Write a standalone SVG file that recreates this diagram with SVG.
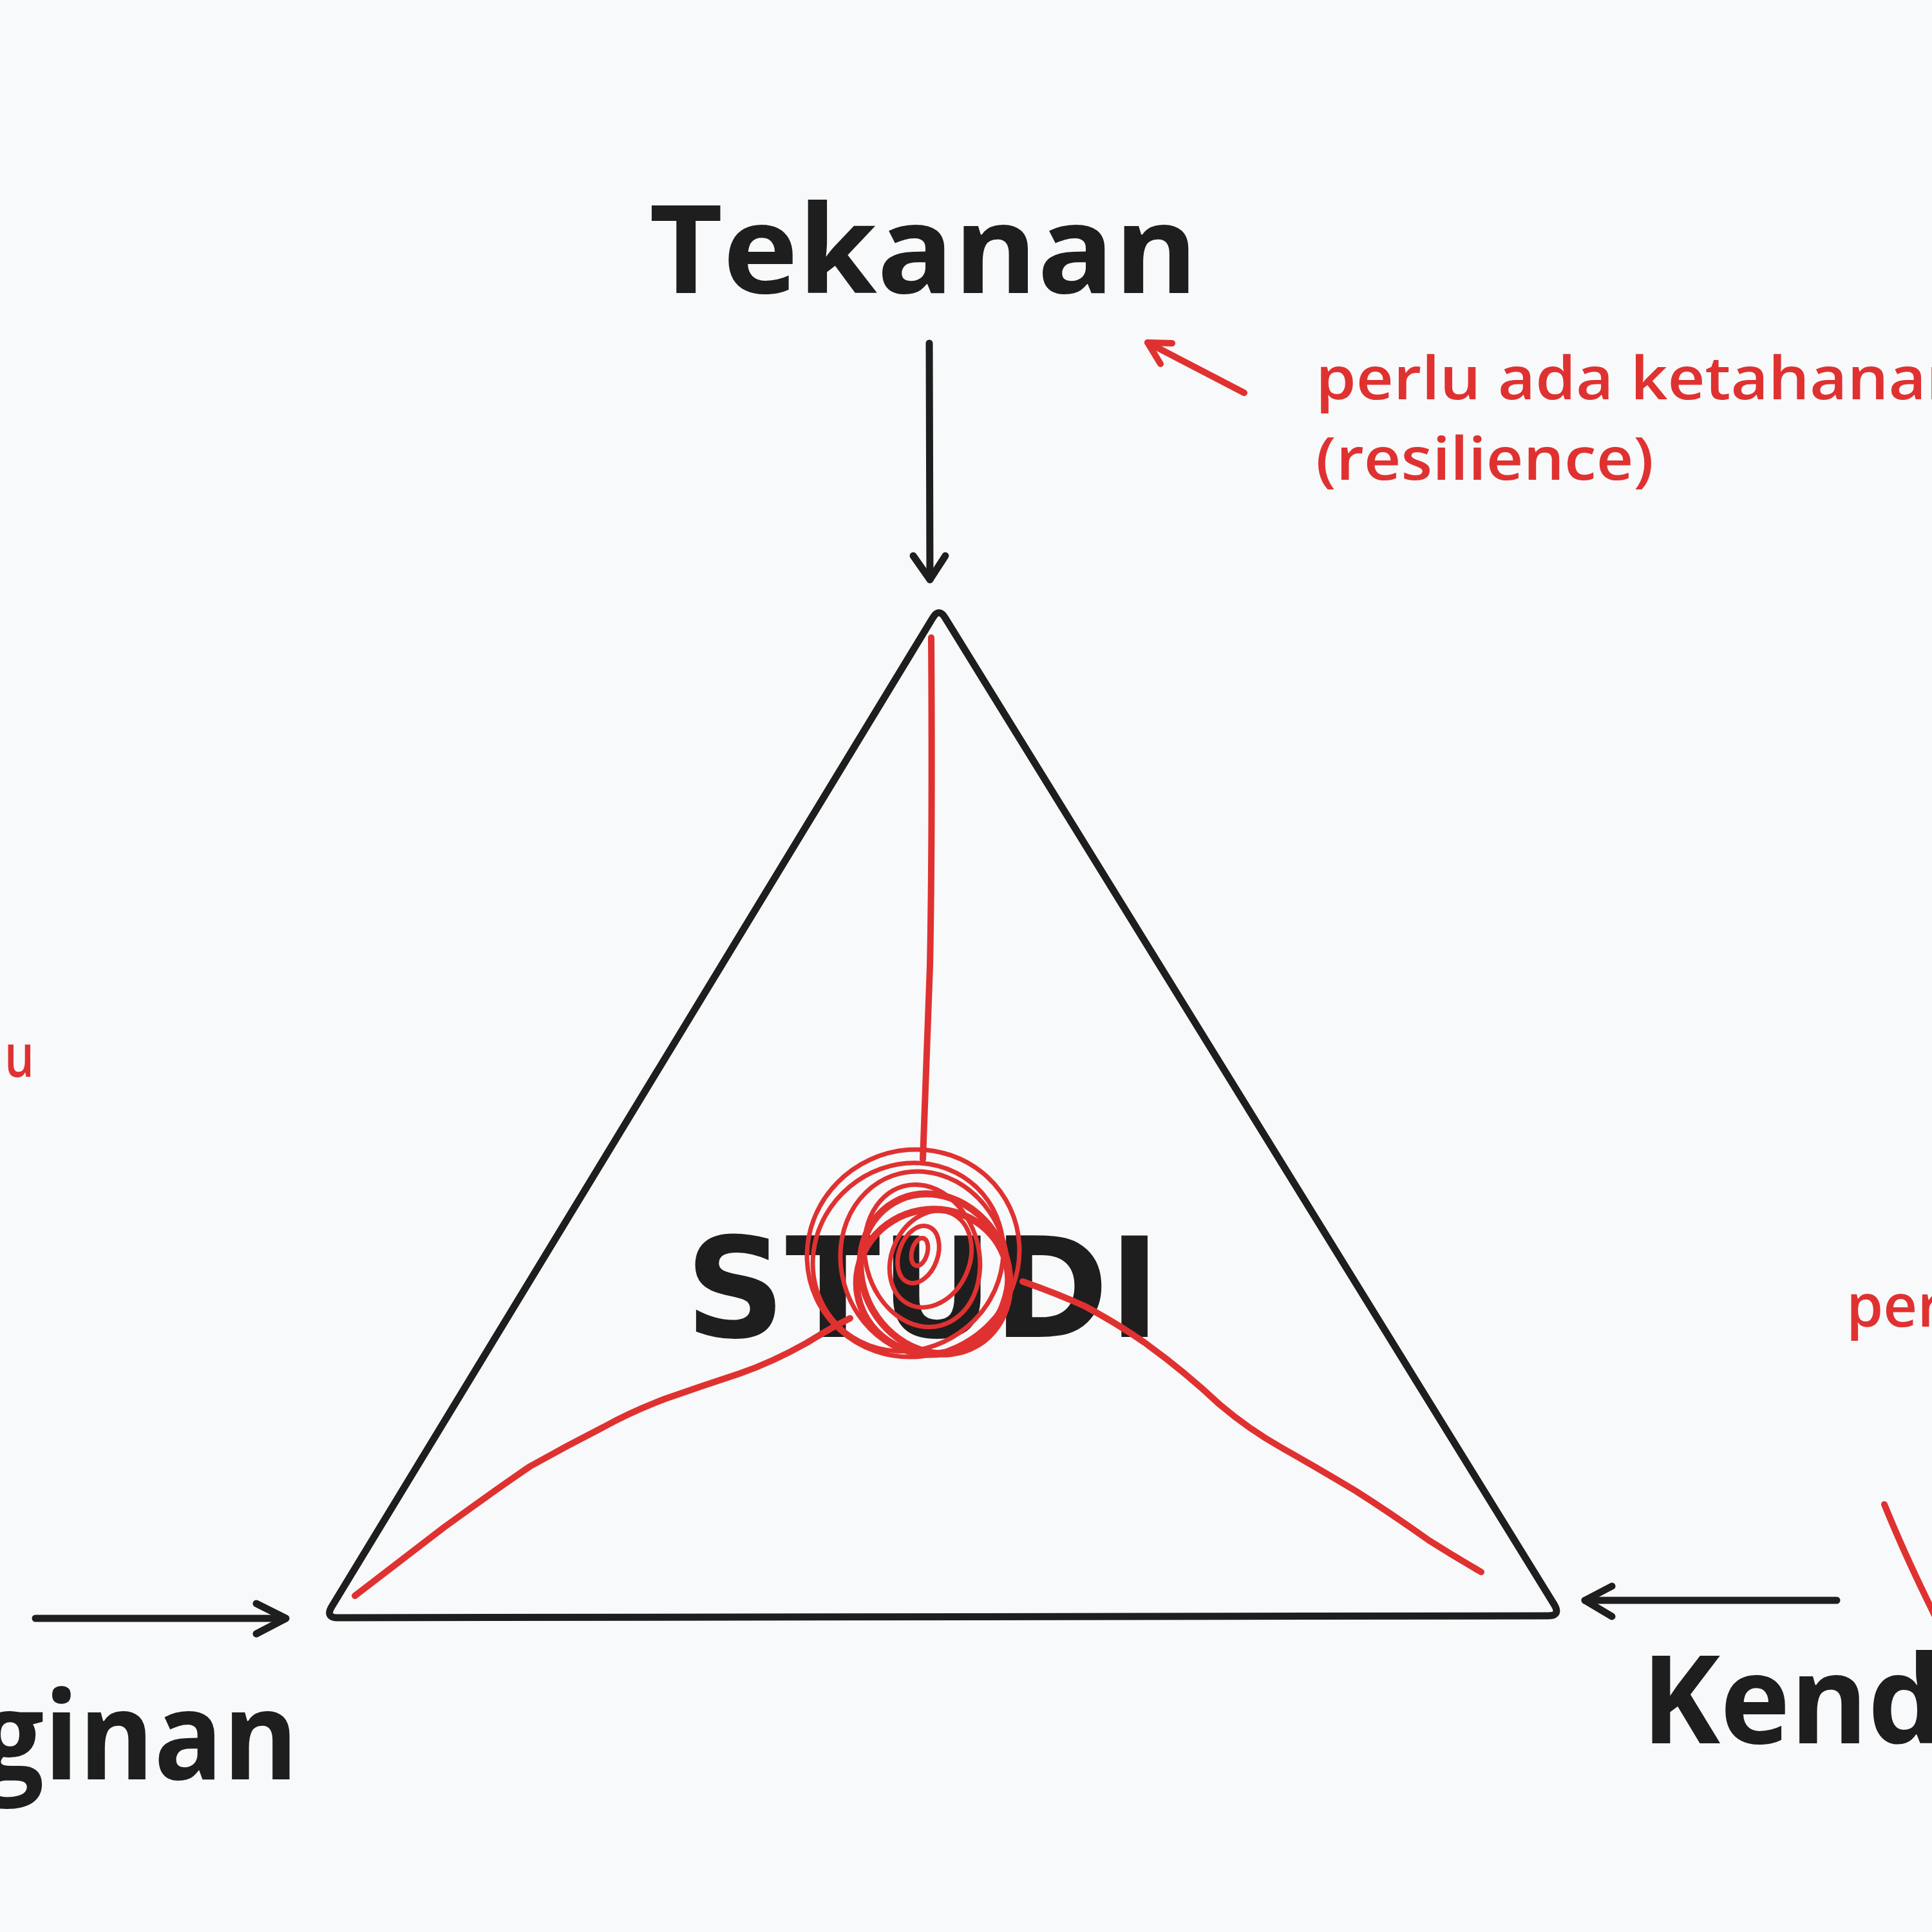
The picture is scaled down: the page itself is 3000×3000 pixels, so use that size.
<svg xmlns="http://www.w3.org/2000/svg" width="3000" height="3000" viewBox="0 0 3000 3000">
<defs>
<style>
.bg{fill:#f8f9fa}
.blk{fill:none;stroke:#1e1e1e;stroke-width:11;stroke-linecap:round;stroke-linejoin:round}
.red{fill:none;stroke:#e03131;stroke-width:10;stroke-linecap:round;stroke-linejoin:round}
.scr{fill:none;stroke:#e03131;stroke-width:7;stroke-linecap:round}
.lbl{font-family:"Open Sans","Liberation Sans",sans-serif;font-weight:bold;fill:#1e1e1e}
.note{font-family:"Open Sans","Liberation Sans",sans-serif;font-weight:600;fill:#e03131;font-size:92px}
.studi{font-family:"DejaVu Sans","Liberation Sans",sans-serif;font-weight:bold;fill:#1e1e1e;font-size:215px}
</style>
</defs>
<rect class="bg" x="0" y="0" width="3000" height="3000"/>

<g id="triangle">
<path class="blk" d="M1448,960 Q1458,943 1468,960 L2413,2491 Q2424,2509 2404,2509 L525,2512 Q505,2512 515,2495 Z"/>
</g>

<g id="studi">
<text class="studi" x="1064" y="2076" textLength="738" lengthAdjust="spacingAndGlyphs">STUDI</text>
</g>

<g id="tekanan">
<text class="lbl" x="1008" y="455" font-size="190" textLength="852" lengthAdjust="spacingAndGlyphs">Tekanan</text>
</g>

<g id="keinginan">
<text class="lbl" x="-32" y="2763" font-size="190" textLength="495" lengthAdjust="spacingAndGlyphs">ginan</text>
</g>

<g id="kendala">
<text class="lbl" x="2549" y="2707" font-size="190" textLength="468" lengthAdjust="spacingAndGlyphs">Kend</text>
</g>

<g id="note-resilience">
<text class="note" x="2043" y="620" textLength="1012" lengthAdjust="spacingAndGlyphs">perlu ada ketahanan</text>
<text class="note" x="2043" y="745" textLength="525" lengthAdjust="spacingAndGlyphs">(resilience)</text>
</g>

<g id="note-left">
<text class="note" x="7" y="1672" textLength="46" lengthAdjust="spacingAndGlyphs">u</text>
</g>

<g id="note-right">
<text class="note" x="2867" y="2060">per</text>
</g>

<g id="connectors">
<path class="blk" d="M1443,533 L1444,900"/>
<path class="blk" d="M1418,863 L1444,900 L1468,863"/>
<path class="blk" d="M55,2513 L442,2513"/>
<path class="blk" d="M398,2490 L444,2513 L398,2537"/>
<path class="blk" d="M2852,2485 L2461,2485"/>
<path class="blk" d="M2503,2463 L2461,2485 L2503,2510"/>
<path class="red" d="M1932,610 L1782,532"/>
<path class="red" d="M1820,533 L1782,532 L1802,565"/>
<path class="red" d="M2926,2336 Q2960,2420 3010,2520"/>
</g>

<g id="scribble">
<path class="red" d="M1446,990 Q1448,1300 1444,1500 Q1436,1700 1433,1800"/>
<path class="red" d="M1320,2047 Q1290,2062 1253,2085 Q1200,2115 1148,2133 Q1090,2152 1033,2172 Q980,2192 937,2216 Q880,2245 823,2277 Q760,2320 689,2372 Q620,2425 551,2478"/>
<path class="red" d="M1588,1990 Q1640,2008 1684,2028 Q1735,2055 1779,2086 Q1840,2130 1894,2181 Q1940,2220 1990,2248 Q2050,2282 2105,2315 Q2160,2350 2219,2392 Q2260,2418 2300,2441"/>
<ellipse class="scr" cx="1418" cy="1946" rx="166" ry="160" transform="rotate(-25 1418 1946)"/>
<ellipse class="scr" cx="1410" cy="1952" rx="152" ry="142" transform="rotate(-40 1410 1952)"/>
<ellipse class="scr" cx="1435" cy="1962" rx="128" ry="145" transform="rotate(-20 1435 1962)"/>
<ellipse class="scr" cx="1452" cy="1978" rx="112" ry="128" transform="rotate(-30 1452 1978)" style="stroke-width:11"/>
<ellipse class="scr" cx="1448" cy="1990" rx="118" ry="112" transform="rotate(-10 1448 1990)" style="stroke-width:11"/>
<ellipse class="scr" cx="1432" cy="1950" rx="88" ry="112" transform="rotate(-15 1432 1950)"/>
<ellipse class="scr" cx="1445" cy="1955" rx="60" ry="78" transform="rotate(25 1445 1955)"/>
<ellipse class="scr" cx="1426" cy="1948" rx="30" ry="46" transform="rotate(20 1426 1948)"/>
<ellipse class="scr" cx="1428" cy="1944" rx="12" ry="22" transform="rotate(15 1428 1944)"/>
</g>
</svg>
